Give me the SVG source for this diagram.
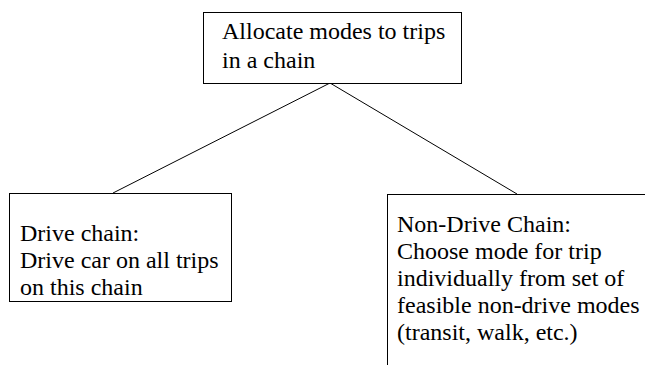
<svg xmlns="http://www.w3.org/2000/svg" width="645" height="365" viewBox="0 0 645 365" font-family="'Liberation Serif', 'Times New Roman', serif" font-size="24">
  <style>
    .box { fill: #ffffff; stroke: #000000; stroke-width: 1; }
    .edge { stroke: #000000; stroke-width: 1; fill: none; }
    .lbl { fill: #000000; }
  </style>
  <rect width="645" height="365" fill="#ffffff"/>
  <!-- tree edges from the top box down to the two option boxes -->
  <g id="connectors">
    <line class="edge" x1="330" y1="83" x2="113" y2="193"/>
    <line class="edge" x1="330" y1="83" x2="517" y2="194"/>
  </g>
  <g id="allocate">
    <rect class="box" x="203.5" y="12.5" width="258" height="71"/>
    <text class="lbl" x="222" y="39">Allocate modes to trips</text>
    <text class="lbl" x="222" y="68">in a chain</text>
  </g>
  <g id="drive-chain">
    <rect class="box" x="9.5" y="193.5" width="222" height="108"/>
    <text class="lbl" x="20" y="241">Drive chain:</text>
    <text class="lbl" x="20" y="268">Drive car on all trips</text>
    <text class="lbl" x="20" y="295">on this chain</text>
  </g>
  <g id="non-drive-chain">
    <rect class="box" x="387.5" y="194.5" width="270" height="180"/>
    <text class="lbl" x="397" y="232">Non-Drive Chain:</text>
    <text class="lbl" x="397" y="259">Choose mode for trip</text>
    <text class="lbl" x="397" y="286">individually from set of</text>
    <text class="lbl" x="397" y="313">feasible non-drive modes</text>
    <text class="lbl" x="397" y="340">(transit, walk, etc.)</text>
  </g>
</svg>
